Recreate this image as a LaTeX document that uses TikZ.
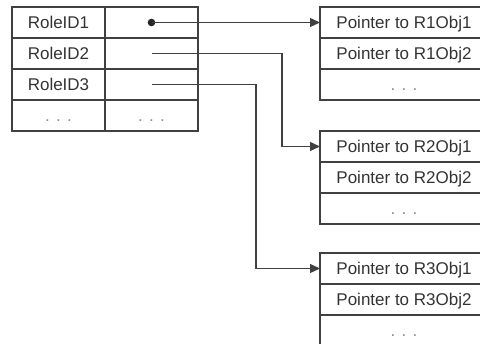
\documentclass[tikz,border=0pt]{standalone}
\usepackage{fontspec}
\setmainfont{Liberation Sans}
\usetikzlibrary{positioning, arrows.meta}

\begin{document}
\begin{tikzpicture}[x=1pt, y=-1pt, font=\fontsize{17}{20}\selectfont,
    cell/.style={draw=black!75, line width=1.3pt, outer sep=0pt, inner sep=0pt,
        minimum height=31pt, text height=12pt, text depth=0pt, text=black!80},
    keycell/.style={cell, minimum width=93pt},
    ptrcell/.style={cell, minimum width=168pt},
    more/.style={text=black!45},
    link/.style={draw=black!75, line width=1.3pt, -{Triangle[length=10pt, width=9pt]}}]
    \useasboundingbox (0,0) rectangle (480,344);
    % role table
    \node[keycell] (role1) at (58.5,22.5) {RoleID1};
    \node[keycell, below=0pt of role1] (role2) {RoleID2};
    \node[keycell, below=0pt of role2] (role3) {RoleID3};
    \node[keycell, more, below=0pt of role3] (roledots) {. . .};
    \node[keycell, right=0pt of role1] (val1) {};
    \node[keycell, right=0pt of role2] (val2) {};
    \node[keycell, right=0pt of role3] (val3) {};
    \node[keycell, more, right=0pt of roledots] (valdots) {. . .};
    % pointer tables
    \node[ptrcell] (p11) at (404,22.5) {Pointer to R1Obj1};
    \node[ptrcell, below=0pt of p11] (p12) {Pointer to R1Obj2};
    \node[ptrcell, more, below=0pt of p12] (p1dots) {. . .};
    \node[ptrcell] (p21) at (404,146.5) {Pointer to R2Obj1};
    \node[ptrcell, below=0pt of p21] (p22) {Pointer to R2Obj2};
    \node[ptrcell, more, below=0pt of p22] (p2dots) {. . .};
    \node[ptrcell] (p31) at (404,268.5) {Pointer to R3Obj1};
    \node[ptrcell, below=0pt of p31] (p32) {Pointer to R3Obj2};
    \node[ptrcell, more, below=0pt of p32] (p3dots) {. . .};
    % links
    \coordinate (turn2) at (282,0);
    \coordinate (turn3) at (256,0);
    \fill[black!85] (val1.center) circle (3.8pt);
    \draw[link] (val1.center) -- (p11.west);
    \draw[link] (val2.center) -- (val2.center -| turn2) |- (p21.west);
    \draw[link] (val3.center) -- (val3.center -| turn3) |- (p31.west);
\end{tikzpicture}
\end{document}
